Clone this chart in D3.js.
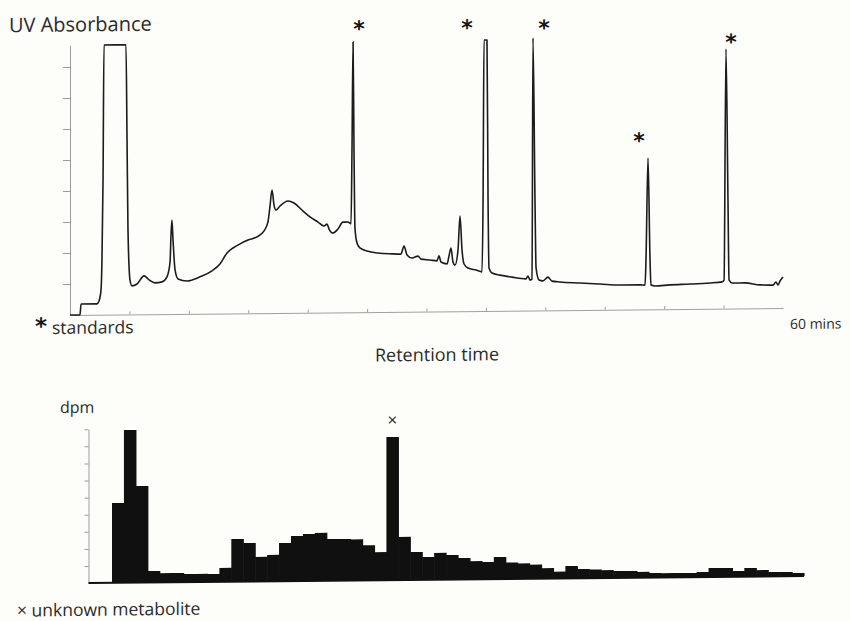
<!DOCTYPE html>
<html>
<head>
<meta charset="utf-8">
<script src="https://cdn.jsdelivr.net/npm/d3@7"></script>
<style>
  html, body { margin: 0; padding: 0; background: #fdfdf9; }
  svg { display: block; }
  text { font-family: "Open Sans", "DejaVu Sans", sans-serif; fill: #2a2a2a; }
</style>
</head>
<body>
<svg id="chart" width="850" height="621"></svg>
<script>
// ---- UV absorbance trace: retention time (min) and absorbance (arbitrary units)
const uvTime = [0, 0.84, 0.93, 2.27, 2.44, 2.61, 2.69, 2.78, 2.86, 4.71, 4.80, 4.88, 5.05, 5.22, 5.64, 6.23,
  6.65, 7.15, 7.74, 8.16, 8.42, 8.50, 8.58, 8.67, 8.84, 9.09, 9.85, 10.94, 11.95, 12.62, 13.21, 13.72,
  14.31, 14.98, 15.74, 16.33, 16.66, 16.83, 17.00, 17.17, 17.34, 17.67, 18.35, 18.85, 19.61, 20.20,
  20.87, 21.37, 21.63, 21.80, 22.13, 22.55, 22.97, 23.39, 23.65, 23.73, 23.82, 23.90, 23.98, 24.15,
  24.40, 24.99, 25.92, 27.10, 27.85, 28.11, 28.36, 28.78, 29.29, 29.54, 30.29, 30.88, 31.05, 31.22,
  31.73, 31.89, 32.06, 32.23, 32.40, 32.65, 32.82, 32.99, 33.16, 33.49, 34.17, 34.67, 34.76, 34.84,
  35.09, 35.18, 35.26, 35.51, 36.19, 37.20, 38.37, 38.54, 38.71, 38.88, 38.96, 39.13, 39.22, 39.47,
  39.80, 40.22, 40.56, 41.23, 42.92, 44.60, 46.28, 47.97, 48.39, 48.47, 48.64, 48.81, 48.89, 49.23,
  50.49, 52.17, 53.86, 54.87, 55.04, 55.20, 55.37, 55.46, 55.71, 56.80, 58.07, 59.16, 59.41, 59.58,
  59.75, 60.00];
const uvAbs = [0, 0, 0.35, 0.35, 0.44, 0.80, 1.77, 4.35, 8.70, 8.70, 5.63, 2.72, 1.11, 0.92, 0.98, 1.24,
  1.11, 1.01, 1.04, 1.20, 1.68, 2.55, 3.03, 2.39, 1.42, 1.13, 1.06, 1.19, 1.38, 1.60, 1.95, 2.11,
  2.24, 2.36, 2.46, 2.65, 2.94, 3.45, 3.97, 3.48, 3.32, 3.45, 3.61, 3.54, 3.28, 3.09,
  2.92, 2.79, 2.85, 2.69, 2.56, 2.69, 2.91, 2.91, 2.85, 5.23, 8.72, 5.23, 2.72, 2.23,
  2.07, 1.97, 1.90, 1.87, 1.86, 2.12, 1.83, 1.73, 1.79, 1.69, 1.66, 1.63, 1.79, 1.59,
  1.53, 1.78, 2.04, 1.59, 1.49, 1.97, 3.07, 1.97, 1.52, 1.39, 1.32, 1.26, 3.58, 8.74,
  8.74, 3.58, 1.38, 1.22, 1.15, 1.08, 1.02, 1.11, 0.98, 1.01, 8.79, 3.56, 1.37, 0.98,
  0.95, 1.07, 0.94, 0.91, 0.87, 0.83, 0.79, 0.79, 0.78, 1.59, 4.88, 1.59, 0.78, 0.75,
  0.78, 0.80, 0.83, 0.86, 0.92, 8.37, 3.50, 0.92, 0.82, 0.82, 0.75, 0.74, 0.84, 0.74,
  0.87, 1.00];
const uvTicks = [1, 2, 3, 4, 5, 6, 7, 8];
const timeTicks = [5, 10, 15, 20, 25, 30, 35, 40, 45, 50, 55];

// ---- standards marked with an asterisk: label anchor (min, absorbance)
const standardTime  = [24.32, 33.41, 39.89, 47.88, 55.62];
const standardLevel = [9.33, 9.33, 9.30, 5.63, 8.79];

// ---- radioactivity collected per fraction
const fractions = [1, 2, 3, 4, 5, 6, 7, 8, 9, 10, 11, 12, 13, 14, 15, 16, 17, 18, 19, 20,
  21, 22, 23, 24, 25, 26, 27, 28, 29, 30, 31, 32, 33, 34, 35, 36, 37, 38, 39, 40,
  41, 42, 43, 44, 45, 46, 47, 48, 49, 50, 51, 52, 53, 54, 55, 56, 57, 58];
const dpm = [467, 893, 565, 67, 54, 54, 47, 47, 46, 81, 249, 225, 143, 154, 223, 263, 274, 280, 244, 243,
  240, 205, 164, 837, 252, 163, 133, 156, 143, 125, 106, 100, 129, 96, 90, 82, 61, 40, 72, 54,
  50, 46, 40, 39, 33, 26, 25, 25, 24, 29, 52, 51, 33, 50, 37, 25, 24, 18];
const dpmTicks = [100, 200, 300, 400, 500, 600, 700, 800, 900];
const unknownFraction = 24;

const svg = d3.select("#chart");
svg.append("rect").attr("width", 850).attr("height", 621).attr("fill", "#fdfdf9");

// the printed figure sits very slightly tilted on the page (baselines rise to the right)
const g = svg.append("g")
  .attr("transform", "translate(425,310) skewY(-0.57) translate(-425,-310)");

// ================= UV chromatogram =================
const x = d3.scaleLinear().domain([0, 60]).range([70, 783]);
const y = d3.scaleLinear().domain([0, 8.7]).range([311.5, 41.8]);

const styleAxis = (sel, col) => {
  sel.select(".domain").attr("stroke", col).attr("stroke-width", 1);
  sel.selectAll(".tick line").attr("stroke", col).attr("stroke-width", 1);
};

g.append("g")
  .attr("transform", `translate(${x(0)},0)`)
  .call(d3.axisLeft(y).tickValues(uvTicks).tickSize(7).tickSizeOuter(0).tickFormat(""))
  .call(s => styleAxis(s, "#9c9c9c"));

g.append("g")
  .attr("transform", `translate(0,${y(0)})`)
  .call(d3.axisBottom(x).tickValues(timeTicks).tickSize(-3).tickSizeOuter(0).tickFormat(""))
  .call(s => styleAxis(s, "#a0a0a0"));

const uv = uvTime.map((t, i) => [t, uvAbs[i]]);
g.append("path")
  .datum(uv)
  .attr("d", d3.line().x(d => x(d[0])).y(d => y(d[1])).curve(d3.curveMonotoneX))
  .attr("fill", "none")
  .attr("stroke", "#1c1c1c")
  .attr("stroke-width", 1.6)
  .attr("stroke-linejoin", "round");

g.selectAll("text.std")
  .data(standardTime.map((t, i) => [t, standardLevel[i]]))
  .join("text")
  .attr("class", "std")
  .attr("x", d => x(d[0]))
  .attr("y", d => y(d[1]))
  .attr("dy", "0.62em")
  .attr("text-anchor", "middle")
  .style("font-family", "'DejaVu Sans', sans-serif")
  .style("font-weight", "bold")
  .style("font-size", "22px")
  .style("fill", "#161616")
  .text("*");

g.append("text").attr("x", 9).attr("y", 28)
  .style("font-size", "20px").text("UV Absorbance");

g.append("text").attr("x", 41).attr("y", 316.2).attr("dy", "0.62em")
  .attr("text-anchor", "middle")
  .style("font-family", "'DejaVu Sans', sans-serif").style("font-weight", "bold")
  .style("font-size", "23px").style("fill", "#161616").text("*");
g.append("text").attr("x", 52).attr("y", 330.3)
  .style("font-size", "17.5px").text("standards");

g.append("text").attr("x", 437).attr("y", 361.1).attr("text-anchor", "middle")
  .style("font-size", "18px").text("Retention time");

g.append("text").attr("x", 790).attr("y", 332.7)
  .style("font-size", "14px").text("60 mins");

// ================= fraction radioactivity =================
const xb = d3.scaleBand().domain(fractions).range([112, 804]).padding(0);
const yb = d3.scaleLinear().domain([0, 900]).range([579.75, 425.85]);

g.append("g")
  .attr("transform", "translate(88.5,0)")
  .call(d3.axisLeft(yb).tickValues(dpmTicks).tickSize(4).tickSizeOuter(0).tickFormat(""))
  .call(s => styleAxis(s, "#9c9c9c"));

g.selectAll("rect.bar")
  .data(fractions.map((f, i) => [f, dpm[i]]))
  .join("rect")
  .attr("class", "bar")
  .attr("x", d => xb(d[0]))
  .attr("width", xb.bandwidth() + 0.6)
  .attr("y", d => yb(d[1]))
  .attr("height", d => yb(0) - yb(d[1]))
  .attr("fill", "#101010");

g.append("line")
  .attr("x1", 88.5).attr("x2", xb(fractions[fractions.length - 1]) + xb.bandwidth())
  .attr("y1", yb(0)).attr("y2", yb(0))
  .attr("stroke", "#101010").attr("stroke-width", 2);

const unk = dpm[fractions.indexOf(unknownFraction)];
g.append("text")
  .attr("x", xb(unknownFraction) + xb.bandwidth() / 2)
  .attr("y", yb(unk) - 11)
  .attr("text-anchor", "middle")
  .style("font-size", "17px")
  .text("×");

g.append("text").attr("x", 60).attr("y", 409.5)
  .style("font-size", "16px").text("dpm");

g.append("text").attr("x", 17).attr("y", 612.5)
  .style("font-size", "17.5px").text("× unknown metabolite");
</script>
</body>
</html>
